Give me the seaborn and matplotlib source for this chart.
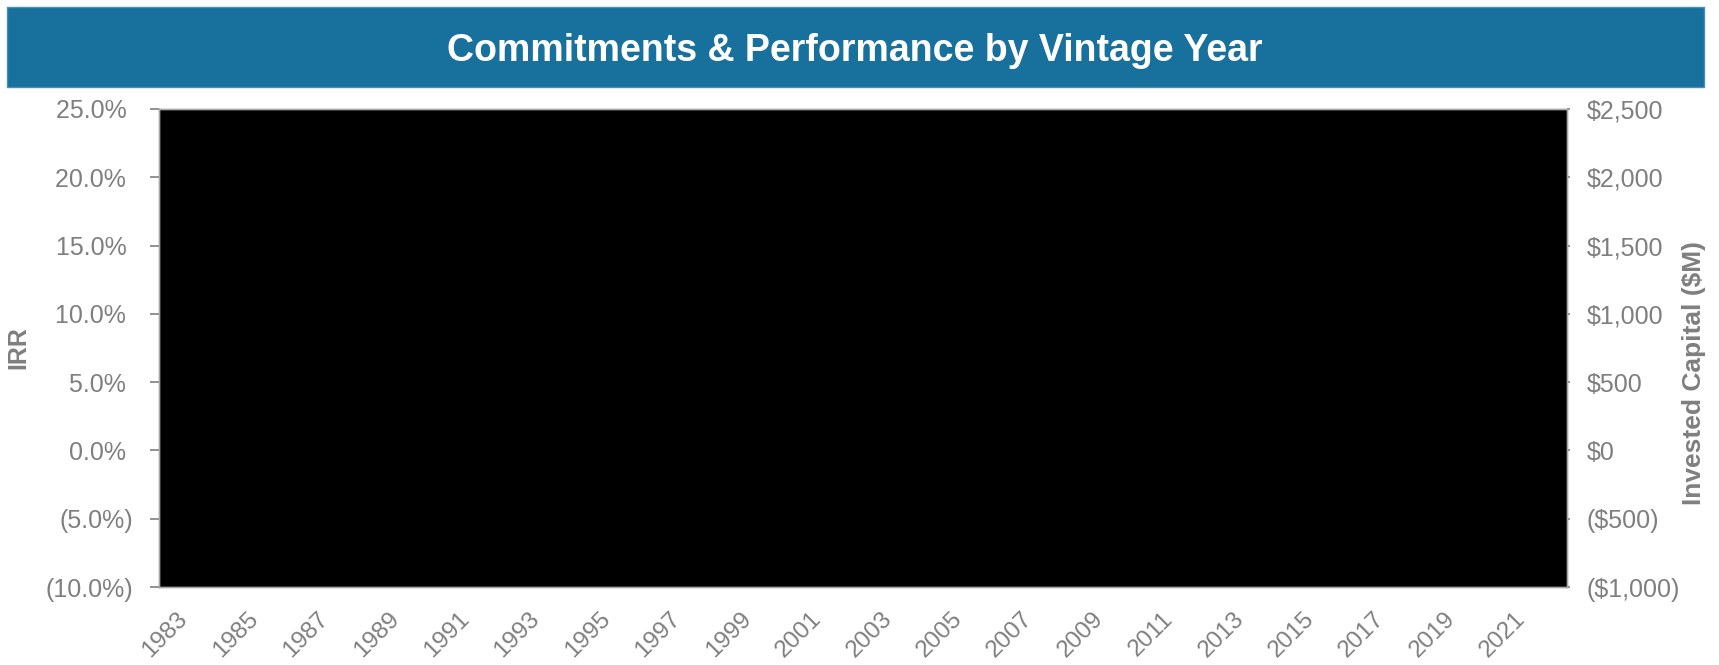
import matplotlib
matplotlib.use("Agg")
import matplotlib.pyplot as plt
from matplotlib.patches import Rectangle
import seaborn as sns

# Vintage years on the category axis, labelled every other year
vintage_years = list(range(1983, 2023))
year_tick_labels = [str(y) if i % 2 == 0 else "" for i, y in enumerate(vintage_years)]

# IRR (left axis, percent) and invested capital (right axis, $M) scales
irr_ticks = [-10, -5, 0, 5, 10, 15, 20, 25]
capital_ticks = [-1000, -500, 0, 500, 1000, 1500, 2000, 2500]

title_text = "Commitments & Performance by Vintage Year"
left_label = "IRR"
right_label = "Invested Capital ($M)"

sns.set_theme(style="white")
plt.rcParams["font.family"] = ["Liberation Sans", "DejaVu Sans"]

GRAY = "#7f7f7f"
SPINE = "#a6a6a6"
BANNER = "#18709c"

W, H = 1719, 665
fig = plt.figure(figsize=(W / 100, H / 100), dpi=100)
fig.patch.set_facecolor("white")

# Title banner across the top
fig.patches.append(Rectangle((7 / W, 1 - 87 / H), (1704 - 7) / W, 80 / H,
                             transform=fig.transFigure, facecolor=BANNER,
                             edgecolor="#4a90b8", linewidth=1, zorder=0))
fig.text(855 / W, 1 - 61 / H, title_text, ha="center", va="baseline",
         color="white", fontsize=27, fontweight="bold")

ax = fig.add_axes([159 / W, 1 - 587 / H, (1567 - 159) / W, (587 - 109) / H])
ax.set_facecolor("black")

def pct_fmt(v):
    return f"({abs(v):.1f}%)" if v < 0 else f"{v:.1f}% "

def usd_fmt(v):
    return f"(${abs(v):,.0f})" if v < 0 else f"${v:,.0f}"

ax.set_xlim(-0.5, len(vintage_years) - 0.5)
ax.set_xticks(range(len(vintage_years)))
ax.set_xticklabels(year_tick_labels, rotation=45, ha="right",
                   rotation_mode="anchor", color=GRAY, fontsize=17.5)
ax.tick_params(axis="x", length=0, pad=15)

ax.set_ylim(irr_ticks[0], irr_ticks[-1])
ax.set_yticks(irr_ticks)
ax.set_yticklabels([pct_fmt(v) for v in irr_ticks], color=GRAY, fontsize=18)
ax.tick_params(axis="y", left=True, length=6.5, width=1.2, color=GRAY, pad=12)
ax.set_ylabel(left_label, color=GRAY, fontsize=18, fontweight="bold")
ax.yaxis.label.set_va("center")
ax.yaxis.set_label_coords((18 - 159) / 1408, 0.5)

ax2 = ax.twinx()
ax2.set_ylim(capital_ticks[0], capital_ticks[-1])
ax2.set_yticks(capital_ticks)
ax2.set_yticklabels([usd_fmt(v) for v in capital_ticks], color=GRAY, fontsize=18)
ax2.tick_params(axis="y", right=True, length=2.2, width=1.2, color=GRAY, pad=12)
ax2.set_ylabel(right_label, color=GRAY, fontsize=19, fontweight="bold")
ax2.yaxis.label.set_va("center")
ax2.yaxis.set_label_coords((1694 - 159) / 1408, (587 - 373) / 478)

for a in (ax, ax2):
    for s in a.spines.values():
        s.set_color(SPINE)
        s.set_linewidth(1)

fig.savefig("out.png", dpi=100, facecolor="white")
